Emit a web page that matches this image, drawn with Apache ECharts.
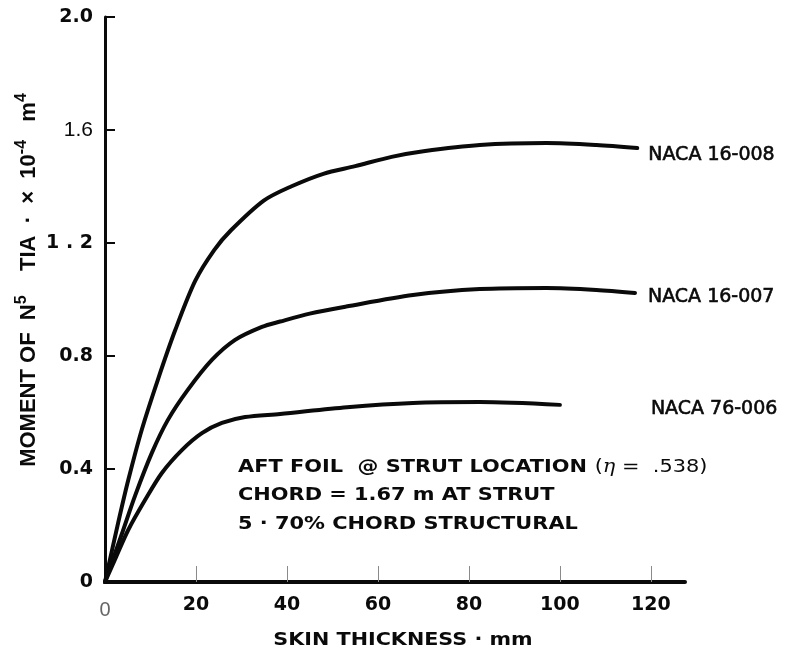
<!DOCTYPE html>
<html>
<head>
<meta charset="utf-8">
<script src="https://cdn.jsdelivr.net/npm/echarts@6/dist/echarts.min.js"></script>
<style>
  html, body { margin: 0; padding: 0; background: #fff; }
  #chart { width: 801px; height: 654px; }
</style>
</head>
<body>
<div id="chart"></div>
<script>
// Skin thickness (mm) ticks and moment-of-inertia tick labels
const xTickValues = [0, 20, 40, 60, 80, 100, 120];
const yTickValues = [0, 0.4, 0.8, 1.2, 1.6, 2.0];
const yTickLabels = ['0', '0.4', '0.8', '1 . 2', '1.6', '2.0'];

// Curve names
const seriesNames = ['NACA 16-008', 'NACA 16-007', 'NACA 76-006'];

// Skin thickness (mm) / moment of inertia (x10^-4 m^4) for each section
const naca16008X = [0, 2.9, 5.1, 8.1, 11.6, 15.4, 19.8, 24, 27.7, 34.9, 40.9, 48, 55, 63, 70, 82.4, 97, 108, 117];
const naca16008Y = [0, 0.21, 0.36, 0.54, 0.715, 0.89, 1.065, 1.175, 1.245, 1.35, 1.40, 1.445, 1.472, 1.505, 1.525, 1.547, 1.554, 1.547, 1.536];

const naca16007X = [0, 3.7, 6.6, 10.3, 13.8, 18.2, 23.5, 28.6, 34.5, 38.5, 45, 53, 67.7, 82.4, 97, 108, 116.5];
const naca16007Y = [0, 0.17, 0.305, 0.457, 0.573, 0.68, 0.786, 0.857, 0.903, 0.922, 0.95, 0.975, 1.016, 1.037, 1.041, 1.034, 1.023];

const naca76006X = [0, 2.2, 5.1, 8.8, 12.5, 16.9, 21.3, 25.7, 30.8, 38.5, 53.2, 67.7, 82.4, 100];
const naca76006Y = [0, 0.08, 0.184, 0.29, 0.386, 0.467, 0.527, 0.563, 0.584, 0.595, 0.619, 0.634, 0.637, 0.627];

// Axis titles and notes printed inside the plot
const xTitle = 'SKIN THICKNESS · mm';
const noteLines = ['AFT FOIL  @ STRUT LOCATION', 'CHORD = 1.67 m AT STRUT', '5 · 70% CHORD STRUCTURAL'];
const noteEta = '.538';

const zip = (xs, ys) => xs.map((x, i) => [x, ys[i]]);

const chart = echarts.init(document.getElementById('chart'), null, { renderer: 'canvas' });

const labelFont = 'DejaVu Sans';
const ink = '#0a0a0a';

function curve(name, xs, ys, offset) {
  return {
    name: name,
    type: 'line',
    data: zip(xs, ys),
    smooth: 0.3,
    symbol: 'none',
    lineStyle: { color: ink, width: 4, cap: 'round', join: 'round' },
    endLabel: {
      show: true,
      formatter: '{a}',
      offset: offset,
      color: ink,
      fontFamily: labelFont,
      fontSize: 19,
      textBorderColor: ink,
      textBorderWidth: 0.6
    },
    z: 3
  };
}

chart.setOption({
  animation: false,
  backgroundColor: '#fff',
  grid: { left: 105, right: 116, top: 17, bottom: 72 },
  xAxis: {
    type: 'value',
    min: 0,
    max: 127.5,
    interval: 20,
    axisLine: { show: true, lineStyle: { color: ink, width: 4 } },
    axisTick: {
      show: true, inside: true, length: 16,
      customValues: xTickValues.slice(1),
      lineStyle: { color: '#8a8a8a', width: 1 }
    },
    axisLabel: {
      customValues: xTickValues,
      margin: 14,
      formatter: v => v === 0 ? '{z|0}' : '{b|' + v + '}',
      rich: {
        z: { color: '#666', fontFamily: 'Liberation Sans', fontSize: 20, fontWeight: 'normal', padding: [4, 0, 0, 0] },
        b: { color: ink, fontFamily: labelFont, fontSize: 19, fontWeight: 'bold' }
      }
    },
    splitLine: { show: false }
  },
  yAxis: {
    type: 'value',
    min: 0,
    max: 2.0,
    interval: 0.4,
    axisLine: { show: true, onZero: false, lineStyle: { color: ink, width: 3 } },
    axisTick: { show: true, inside: true, length: 10, lineStyle: { color: ink, width: 2 } },
    axisLabel: {
      margin: 12,
      formatter: v => {
        const i = yTickValues.findIndex(t => Math.abs(t - v) < 1e-6);
        if (i < 0) return '';
        return (i === 4 ? '{n|' : '{b|') + yTickLabels[i] + '}';
      },
      rich: {
        b: { color: ink, fontFamily: labelFont, fontSize: 19, fontWeight: 'bold' },
        n: { color: ink, fontFamily: 'Liberation Sans', fontSize: 21, fontWeight: 'normal' }
      }
    },
    splitLine: { show: false }
  },
  series: [
    curve(seriesNames[0], naca16008X, naca16008Y, [3, 7]),
    curve(seriesNames[1], naca16007X, naca16007Y, [5, 4]),
    curve(seriesNames[2], naca76006X, naca76006Y, [83, 4])
  ],
  graphic: [
    {
      // vertical axis title
      type: 'text',
      x: 27, y: 280,
      rotation: Math.PI / 2,
      style: {
        text: '{m|MOMENT OF  N}{s|5}{m|    TIA  ·  ×  10}{s|-4}{m|   m}{s|4}',
        align: 'center',
        verticalAlign: 'middle',
        fill: ink,
        rich: {
          m: { fontFamily: 'Liberation Sans', fontWeight: 'bold', fontSize: 22, fill: ink, verticalAlign: 'bottom', lineHeight: 26 },
          s: { fontFamily: 'Liberation Sans', fontWeight: 'bold', fontSize: 16, fill: ink, verticalAlign: 'top', lineHeight: 26 }
        }
      }
    },
    {
      // horizontal axis title
      type: 'text',
      x: 403, y: 640,
      scaleX: 1.15,
      style: {
        text: xTitle,
        align: 'center',
        verticalAlign: 'middle',
        fill: ink,
        fontFamily: labelFont,
        fontWeight: 'bold',
        fontSize: 18
      }
    },
    {
      type: 'text',
      x: 238, y: 453,
      scaleX: 1.16,
      style: {
        text: '{b|' + noteLines[0] + '}  {r|(}{e|η}{r| =  ' + noteEta + ')}\n{b|' + noteLines[1] + '}\n{b|' + noteLines[2] + '}',
        fill: ink,
        rich: {
          b: { fontFamily: labelFont, fontWeight: 'bold', fontSize: 18, lineHeight: 28.5, fill: ink },
          r: { fontFamily: labelFont, fontWeight: 'normal', fontSize: 18, lineHeight: 28.5, fill: ink },
          e: { fontFamily: 'DejaVu Serif', fontStyle: 'italic', fontSize: 18, lineHeight: 28.5, fill: ink }
        }
      }
    }
  ]
});
</script>
</body>
</html>
